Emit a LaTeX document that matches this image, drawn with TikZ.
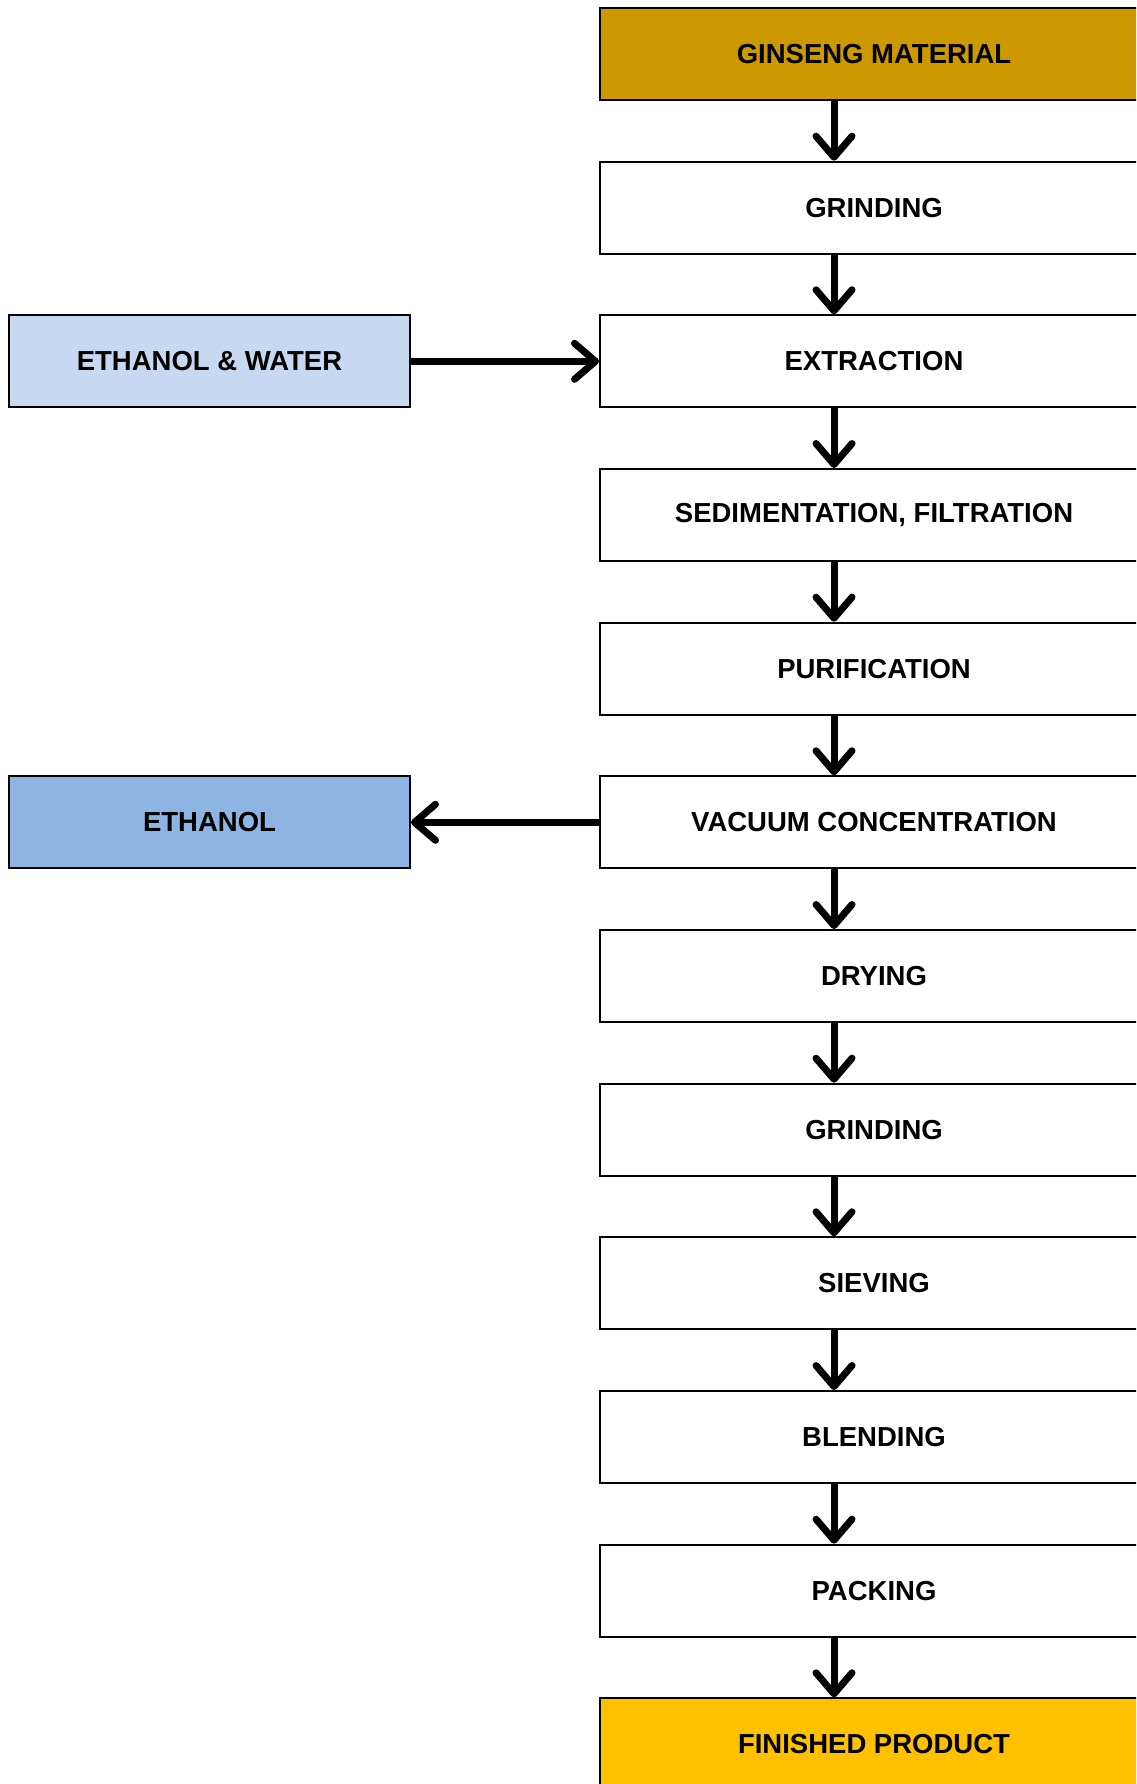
\documentclass[tikz,border=0pt]{standalone}
\usepackage{fontspec}
\setmainfont{Liberation Sans}
\usetikzlibrary{arrows.meta}
\definecolor{gold}{RGB}{204,153,0}
\definecolor{amber}{RGB}{255,192,0}
\definecolor{lblue}{RGB}{198,217,241}
\definecolor{mblue}{RGB}{142,180,227}
\tikzset{
  stepbox/.style={draw=black, line width=2pt, fill=white, minimum width=548pt, minimum height=92pt, inner sep=0pt,
    font=\fontsize{27.5pt}{31pt}\selectfont\bfseries},
  sidebox/.style={draw=black, line width=2pt, minimum width=401pt, minimum height=92pt, inner sep=0pt,
    font=\fontsize{27.5pt}{31pt}\selectfont\bfseries},
  arr/.style={line width=7pt, -{Straight Barb[length=21pt,width=36pt,round]}},
}
\begin{document}
\begin{tikzpicture}[x=1pt,y=-1pt]
\useasboundingbox (0,0) rectangle (1136,1784);
\clip (0,0) rectangle (1136,1784);
\fill[white] (0,0) rectangle (1136,1784);
\coordinate (ax) at (834,0);
\node[stepbox, fill=gold]  (b0)  at (874, 54) {GINSENG MATERIAL};
\node[stepbox] (b1)  at (874, 207.7) {GRINDING};
\node[stepbox] (b2)  at (874, 361.3) {EXTRACTION};
\node[stepbox] (b3)  at (874, 515) {SEDIMENTATION, FILTRATION};
\node[stepbox] (b4)  at (874, 668.7) {PURIFICATION};
\node[stepbox] (b5)  at (874, 822.3) {VACUUM CONCENTRATION};
\node[stepbox] (b6)  at (874, 976) {DRYING};
\node[stepbox] (b7)  at (874, 1129.7) {GRINDING};
\node[stepbox] (b8)  at (874, 1283.3) {SIEVING};
\node[stepbox] (b9)  at (874, 1437) {BLENDING};
\node[stepbox] (b10) at (874, 1590.7) {PACKING};
\node[stepbox, fill=amber] (b11) at (874, 1744.3) {FINISHED PRODUCT};
\node[sidebox, fill=lblue] (l1) at (209.5, 361.3) {ETHANOL \& WATER};
\node[sidebox, fill=mblue] (l2) at (209.5, 822.3) {ETHANOL};
\foreach \a/\b in {b0/b1,b1/b2,b2/b3,b3/b4,b4/b5,b5/b6,b6/b7,b7/b8,b8/b9,b9/b10,b10/b11}{
  \draw[arr] (\a.south -| ax) -- (\b.north -| ax);
}
\draw[arr] (l1.east) -- (b2.west);
\draw[arr] (b5.west) -- (l2.east);
\end{tikzpicture}
\end{document}
